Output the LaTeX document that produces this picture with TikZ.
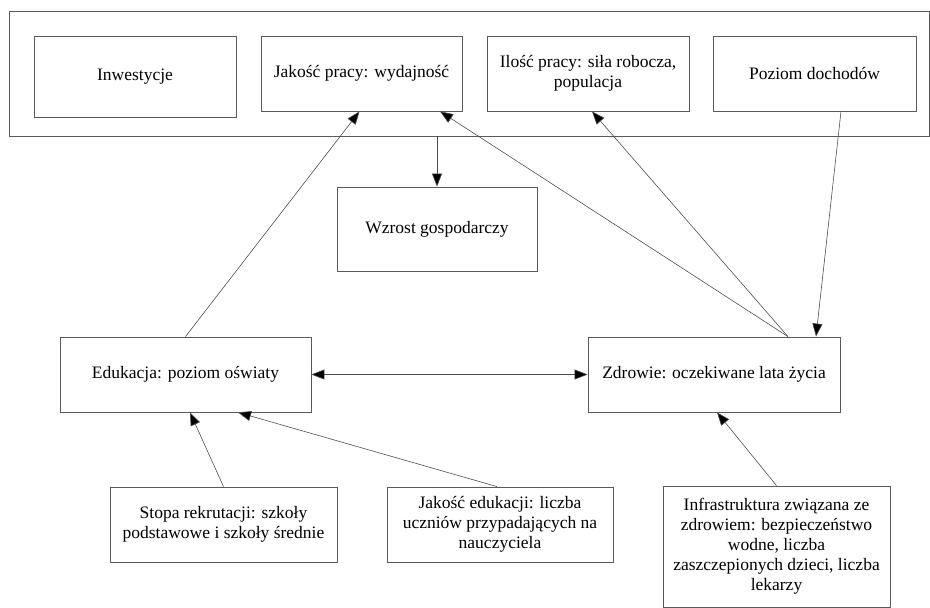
\documentclass[tikz,border=0pt]{standalone}
\usepackage{fontspec}
\setmainfont{Liberation Serif}
\usepackage{tikz}
\usetikzlibrary{arrows.meta}
\tikzset{plainbox/.style={shape=rectangle, draw=black!65, line width=0.8pt, align=center, inner sep=2pt, font=\fontsize{17.5}{20}\selectfont},
	linkarrow/.style={draw=black!70, line width=0.6pt, -{Triangle[length=13pt,width=10pt,fill=black]}}}

\begin{document}
\begin{tikzpicture}[x=1pt,y=-1pt]
\useasboundingbox (0,0) rectangle (930,608);
\node[plainbox, minimum width=920pt, minimum height=125pt] (frame) at (469,73.5) {};
\node[plainbox, minimum width=202pt, minimum height=81pt] (inw) at (135,76.5) {Inwestycje};
\node[plainbox, minimum width=201pt, minimum height=75pt] (jpr) at (361.5,73.5) {Jakość pracy: wydajność};
\node[plainbox, minimum width=202pt, minimum height=75pt] (ipr) at (588,73.5) {Ilość pracy: siła robocza,\\ populacja};
\node[plainbox, minimum width=203pt, minimum height=75pt] (poz) at (814.5,73.5) {Poziom dochodów};
\node[plainbox, minimum width=200pt, minimum height=84pt] (wzr) at (437,229) {Wzrost gospodarczy};
\node[plainbox, minimum width=251pt, minimum height=75pt] (edu) at (185.5,374.5) {Edukacja: poziom oświaty};
\node[plainbox, minimum width=252pt, minimum height=75pt] (zdr) at (714,374.5) {Zdrowie: oczekiwane lata życia};
\node[plainbox, minimum width=227pt, minimum height=75pt] (sto) at (223.5,524.5) {Stopa rekrutacji: szkoły\\ podstawowe i szkoły średnie};
\node[plainbox, minimum width=226pt, minimum height=75pt] (jed) at (500,524.5) {Jakość edukacji: liczba\\ uczniów przypadających na\\ nauczyciela};
\node[plainbox, minimum width=227pt, minimum height=121pt] (inf) at (776.5,546.5) {Infrastruktura związana ze\\ zdrowiem: bezpieczeństwo\\ wodne, liczba\\ zaszczepionych dzieci, liczba\\ lekarzy};

\draw[linkarrow] (edu.north) -- ([xshift=-2pt]jpr.south);
\draw[linkarrow] ([xshift=74pt]zdr.north) -- ([xshift=78.5pt]jpr.south);
\draw[linkarrow] ([xshift=74pt]zdr.north) -- ([xshift=4pt]ipr.south);
\draw[linkarrow] ([xshift=26.5pt]poz.south) -- ([xshift=102pt]zdr.north);
\draw[linkarrow] (frame.south -| wzr.north) -- (wzr.north);
\draw[linkarrow, {Triangle[length=13pt,width=10pt,fill=black]}-{Triangle[length=13pt,width=10pt,fill=black]}] (edu.east) -- (zdr.west);
\draw[linkarrow] (sto.north) -- ([xshift=4.5pt]edu.south);
\draw[linkarrow] ([xshift=-3pt]jed.north) -- ([xshift=52.5pt]edu.south);
\draw[linkarrow] (inf.north) -- ([xshift=3pt]zdr.south);
\end{tikzpicture}
\end{document}
